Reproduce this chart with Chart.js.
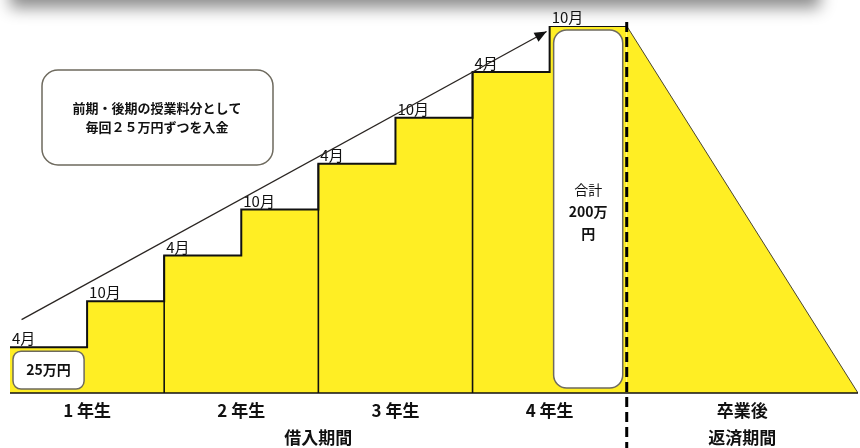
<!DOCTYPE html>
<html>
<head>
<meta charset="utf-8">
<script src="https://cdn.jsdelivr.net/npm/chart.js@4.4.1/dist/chart.umd.min.js"></script>
<style>
  html, body { margin: 0; padding: 0; background: #fff; }
  #wrap { width: 860px; height: 448px; }
</style>
</head>
<body>
<div id="wrap"><canvas id="loanChart" width="860" height="448"></canvas></div>
<script>
// borrowing period: one step per payment (x = half-year index)
const stepX = [0, 1, 2, 3, 4, 5, 6, 7, 8];
const borrowed = [25, 50, 75, 100, 125, 150, 175, 200, 200];
const monthLabels = ['4月', '10月', '4月', '10月', '4月', '10月', '4月', '10月'];
const yearLabels = ['1 年生', '2 年生', '3 年生', '4 年生'];
// repayment period: balance goes from 200 down to 0
const repayX = [8, 11];
const repayBalance = [200, 0];

const YELLOW = '#FFEE24';
const JP = '"Noto Sans CJK JP", "Noto Sans", sans-serif';

function roundBox(ctx, x, y, w, h, r) {
    ctx.beginPath();
    ctx.roundRect(x, y, w, h, r);
    ctx.fillStyle = '#fff';
    ctx.fill();
    ctx.lineWidth = 1.5;
    ctx.strokeStyle = '#6e6a5e';
    ctx.stroke();
}

const backdrop = {
    id: 'backdrop',
    beforeDraw(chart) {
        const ctx = chart.ctx;
        ctx.save();
        // blurred shadow of the cut-off title strip
        ctx.shadowColor = 'rgba(0,0,0,0.45)';
        ctx.shadowBlur = 16;
        ctx.shadowOffsetY = 8;
        ctx.fillStyle = '#fff';
        ctx.fillRect(10, -40, 810, 40);
        ctx.restore();
    }
};

const decorations = {
    id: 'decorations',
    afterDatasetsDraw(chart) {
        const ctx = chart.ctx;
        const xs = chart.scales.x;
        const ys = chart.scales.y;
        const base = ys.getPixelForValue(0);
        ctx.save();

        // year separators
        ctx.strokeStyle = '#111';
        ctx.lineWidth = 1.6;
        [2, 4, 6].forEach(i => {
            const px = xs.getPixelForValue(stepX[i]);
            ctx.beginPath();
            ctx.moveTo(px, base);
            ctx.lineTo(px, ys.getPixelForValue(borrowed[i]));
            ctx.stroke();
        });

        // baseline
        ctx.lineWidth = 1.6;
        ctx.beginPath();
        ctx.moveTo(xs.getPixelForValue(0), base);
        ctx.lineTo(xs.getPixelForValue(11), base);
        ctx.stroke();

        // month labels above each step
        ctx.fillStyle = '#111';
        ctx.font = '15px ' + JP;
        ctx.textAlign = 'left';
        ctx.textBaseline = 'bottom';
        monthLabels.forEach((m, i) => {
            ctx.fillText(m, xs.getPixelForValue(stepX[i]) + 2, ys.getPixelForValue(borrowed[i]) - 1);
        });

        // year labels
        ctx.font = 'bold 17px ' + JP;
        ctx.textAlign = 'center';
        ctx.textBaseline = 'middle';
        yearLabels.forEach((y, i) => {
            ctx.fillText(y, xs.getPixelForValue(i * 2 + 1), base + 18);
        });
        ctx.fillText('卒業後', xs.getPixelForValue(9.5), base + 18);
        ctx.fillText('借入期間', xs.getPixelForValue(4), base + 45);
        ctx.fillText('返済期間', xs.getPixelForValue(9.5), base + 45);

        // first payment box
        const b1x = xs.getPixelForValue(0) + 3;
        const b1w = xs.getPixelForValue(1) - b1x - 3;
        const b1y = ys.getPixelForValue(25) + 4;
        roundBox(ctx, b1x, b1y, b1w, base - b1y - 4, 8);
        ctx.fillStyle = '#111';
        ctx.font = 'bold 14px ' + JP;
        ctx.fillText('25万円', b1x + b1w / 2, b1y + (base - b1y - 4) / 2);

        // total box
        const btx = xs.getPixelForValue(7) + 4;
        const btw = xs.getPixelForValue(8) - btx - 4;
        const bty = ys.getPixelForValue(200) + 4;
        const bth = base - bty - 5;
        roundBox(ctx, btx, bty, btw, bth, 13);
        ctx.fillStyle = '#111';
        ctx.font = '14px ' + JP;
        ctx.fillText('合計', btx + btw / 2, 190);
        ctx.font = 'bold 14px ' + JP;
        ctx.fillText('200万', btx + btw / 2, 212);
        ctx.fillText('円', btx + btw / 2, 234);

        // explanation callout
        roundBox(ctx, 42, 70, 231, 95, 16);
        ctx.fillStyle = '#111';
        ctx.font = 'bold 13px ' + JP;
        ctx.fillText('前期・後期の授業料分として', 157, 108);
        ctx.fillText('毎回２５万円ずつを入金', 157, 127);

        // growth arrow
        const ax0 = xs.getPixelForValue(0.15), ay0 = ys.getPixelForValue(40);
        const ax1 = xs.getPixelForValue(6.96), ay1 = ys.getPixelForValue(197);
        ctx.strokeStyle = '#2a2522';
        ctx.lineWidth = 1.3;
        ctx.beginPath();
        ctx.moveTo(ax0, ay0);
        ctx.lineTo(ax1, ay1);
        ctx.stroke();
        const ang = Math.atan2(ay1 - ay0, ax1 - ax0);
        ctx.fillStyle = '#111';
        ctx.beginPath();
        ctx.moveTo(ax1, ay1);
        ctx.lineTo(ax1 - 13 * Math.cos(ang - 0.4), ay1 - 13 * Math.sin(ang - 0.4));
        ctx.lineTo(ax1 - 13 * Math.cos(ang + 0.4), ay1 - 13 * Math.sin(ang + 0.4));
        ctx.closePath();
        ctx.fill();

        // graduation divider
        const dx = xs.getPixelForValue(8);
        ctx.strokeStyle = '#000';
        ctx.lineWidth = 3;
        ctx.setLineDash([10, 5]);
        ctx.beginPath();
        ctx.moveTo(dx, ys.getPixelForValue(200) - 4);
        ctx.lineTo(dx, chart.height);
        ctx.stroke();
        ctx.restore();
    }
};

const ctx = document.getElementById('loanChart').getContext('2d');
const loanChart = new Chart(ctx, {
    type: 'line',
    data: {
        datasets: [{
            label: '借入',
            data: stepX.map((x, i) => ({ x: x, y: borrowed[i] })),
            stepped: 'before',
            fill: 'origin',
            backgroundColor: YELLOW,
            borderColor: '#111',
            borderWidth: 2,
            pointRadius: 0
        }, {
            label: '返済',
            data: repayX.map((x, i) => ({ x: x, y: repayBalance[i] })),
            fill: 'origin',
            backgroundColor: YELLOW,
            borderColor: '#4a4530',
            borderWidth: 1,
            pointRadius: 0
        }]
    },
    options: {
        responsive: false,
        animation: false,
        layout: { padding: { left: 10, right: 2, top: 26, bottom: 55 } },
        scales: {
            x: { type: 'linear', min: 0, max: 11, display: false },
            y: { min: 0, max: 200, display: false }
        },
        plugins: {
            legend: { display: false },
            tooltip: { enabled: false }
        }
    },
    plugins: [backdrop, decorations]
});
</script>
</body>
</html>
